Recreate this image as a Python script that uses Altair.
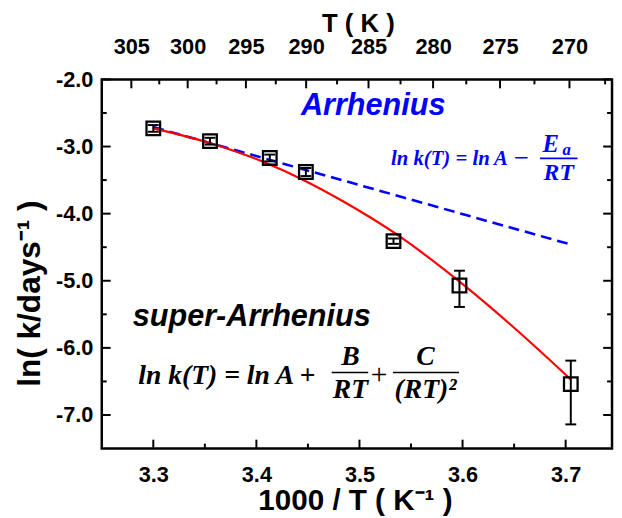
import altair as alt
import pandas as pd

# ---------------- data ----------------
inv_T = [3.300, 3.355, 3.413, 3.448, 3.533, 3.597, 3.705]
ln_k = [-2.73, -2.92, -3.17, -3.38, -4.41, -5.07, -6.54]
ln_k_hi = [-2.68, -2.87, -3.12, -3.32, -4.37, -4.85, -6.19]
ln_k_lo = [-2.78, -2.97, -3.22, -3.44, -4.45, -5.39, -7.14]

# super-Arrhenius fit (red)
fit_x = [3.300, 3.3555, 3.4095, 3.4445, 3.4857, 3.5333, 3.5968, 3.650, 3.705]
fit_y = [-2.73, -2.95, -3.245, -3.49, -3.83, -4.28, -5.01, -5.70, -6.47]

# Arrhenius fit (blue dashed)
arr_x = [3.300, 3.705]
arr_y = [-2.71, -4.46]

# axes
x_ticks = [3.3, 3.4, 3.5, 3.6, 3.7]
x_minor = [3.35, 3.45, 3.55, 3.65]
y_ticks = [-2.0, -3.0, -4.0, -5.0, -6.0, -7.0]
y_minor = [-2.5, -3.5, -4.5, -5.5, -6.5]
T_ticks = [305, 300, 295, 290, 285, 280, 275, 270]
T_minor = [302.5, 297.5, 292.5, 287.5, 282.5, 277.5, 272.5, 267.5]

X_DOMAIN = [3.25, 3.745]
Y_DOMAIN = [-7.5, -2.0]
W, H = 517, 374

pts = pd.DataFrame({"x": inv_T, "y": ln_k, "hi": ln_k_hi, "lo": ln_k_lo})
fit = pd.DataFrame({"x": fit_x, "y": fit_y})
arr = pd.DataFrame({"x": arr_x, "y": arr_y})

xs = alt.Scale(domain=X_DOMAIN, nice=False, zero=False)
ys = alt.Scale(domain=Y_DOMAIN, nice=False, zero=False)

SANS = "Liberation Sans"
SERIF = "Liberation Serif"
BLUE = "#0000FF"
RED = "#FF0000"

x_axis_bottom = alt.Axis(
    orient="bottom", values=x_ticks, format=".1f", ticks=False, domain=False,
    grid=False, labelFont=SANS, labelFontWeight="bold", labelFontSize=22,
    labelColor="black", labelPadding=16, title=None,
)
y_axis_left = alt.Axis(
    orient="left", values=y_ticks, ticks=False, domain=False, grid=False,
    labelExpr="replace(format(datum.value, '.1f'), '\u2212', '-')",
    labelFont=SANS, labelFontWeight="bold", labelFontSize=22,
    labelColor="black", labelPadding=9, title=None,
)
x_axis_top = alt.Axis(
    orient="top", values=[1000.0 / t for t in T_ticks],
    labelExpr="format(1000 / datum.value, '.0f')", ticks=False, domain=False,
    grid=False, labelFont=SANS, labelFontWeight="bold", labelFontSize=22,
    labelColor="black", labelPadding=21, title=None,
)

# Arrhenius dashed line (carries bottom & left axes)
arr_line = alt.Chart(arr).mark_line(
    color=BLUE, strokeWidth=2.6, strokeDash=[11, 6]
).encode(
    x=alt.X("x:Q", scale=xs, axis=x_axis_bottom),
    y=alt.Y("y:Q", scale=ys, axis=y_axis_left),
)

fit_line = alt.Chart(fit).mark_line(
    color=RED, strokeWidth=2.2, interpolate="monotone"
).encode(
    x=alt.X("x:Q", scale=xs, axis=None),
    y=alt.Y("y:Q", scale=ys, axis=None),
)

err_rule = alt.Chart(pts).mark_rule(color="black", strokeWidth=2).encode(
    x=alt.X("x:Q", scale=xs, axis=None),
    y=alt.Y("lo:Q", scale=ys, axis=None),
    y2="hi:Q",
)
cap_hi = alt.Chart(pts).mark_tick(
    orient="horizontal", color="black", thickness=2, size=11, opacity=1
).encode(
    x=alt.X("x:Q", scale=xs, axis=None),
    y=alt.Y("hi:Q", scale=ys, axis=None),
)
cap_lo = alt.Chart(pts).mark_tick(
    orient="horizontal", color="black", thickness=2, size=11, opacity=1
).encode(
    x=alt.X("x:Q", scale=xs, axis=None),
    y=alt.Y("lo:Q", scale=ys, axis=None),
)
squares = alt.Chart(pts).mark_point(
    shape="square", size=190, filled=False, color="black", strokeWidth=2.3,
    opacity=1
).encode(
    x=alt.X("x:Q", scale=xs, axis=None),
    y=alt.Y("y:Q", scale=ys, axis=None),
)

# inward ticks
xt = pd.DataFrame({"v": x_ticks})
xm = pd.DataFrame({"v": x_minor})
yt = pd.DataFrame({"v": y_ticks})
ym = pd.DataFrame({"v": y_minor})
tt = pd.DataFrame({"v": [1000.0 / t for t in T_ticks]})
tm = pd.DataFrame({"v": [1000.0 / t for t in T_minor]})


def xtick(df, y0, y1, axis=None):
    return alt.Chart(df).mark_rule(color="black", strokeWidth=2).encode(
        x=alt.X("v:Q", scale=xs, axis=axis),
        y=alt.value(y0), y2=alt.value(y1),
    )


def ytick(df, x0, x1):
    return alt.Chart(df).mark_rule(color="black", strokeWidth=2).encode(
        y=alt.Y("v:Q", scale=ys, axis=None),
        x=alt.value(x0), x2=alt.value(x1),
    )


ticks = [
    xtick(tt, 0, 9, axis=x_axis_top),
    xtick(tm, 0, 5),
    xtick(xt, H, H - 9),
    xtick(xm, H, H - 5),
    ytick(yt, 0, 9),
    ytick(ym, 0, 5),
    ytick(yt, W, W - 9),
    ytick(ym, W, W - 5),
]


def txt(s, x, y, size, color="black", font=SERIF, style="italic",
        weight="bold", align="left", angle=0):
    return alt.Chart(pd.DataFrame({"t": [s]})).mark_text(
        font=font, fontSize=size, fontStyle=style, fontWeight=weight,
        color=color, align=align, baseline="middle", angle=angle,
    ).encode(text="t:N", x=alt.value(x), y=alt.value(y))


def bar(x0, x1, y, color="black"):
    return alt.Chart(pd.DataFrame({"a": [0]})).mark_rule(
        color=color, strokeWidth=1.6
    ).encode(x=alt.value(x0), x2=alt.value(x1), y=alt.value(y))


notes = [
    # axis titles
    txt("T ( K )", 260, -56, 26, font=SANS, style="normal", align="center"),
    txt("1000 / T ( K\u207b\u00b9 )", 257, 427, 30, font=SANS,
        style="normal", align="center"),
    txt("ln( k/days\u207b\u00b9 )", -73, 217, 32, font=SANS,
        style="normal", align="center", angle=270),
    # Arrhenius label and equation
    txt("Arrhenius", 275, 27, 31, color=BLUE, font=SANS, align="center"),
    txt("ln k(T) = ln A", 293, 81, 21, color=BLUE),
    txt("\u2212", 425, 80, 20, color=BLUE, font="DejaVu Serif",
        style="normal", weight="normal", align="center"),
    txt("E", 455, 66, 25, color=BLUE, align="center"),
    txt("a", 471, 72, 17, color=BLUE, align="center"),
    bar(444, 482, 80, color=BLUE),
    txt("RT", 463, 95, 24, color=BLUE, align="center"),
    # super-Arrhenius label and equation
    txt("super-Arrhenius", 152, 241, 31, font=SANS, align="center"),
    txt("ln k(T) = ln A +", 37, 301, 28),
    txt("B", 252, 281, 28, align="center"),
    bar(233, 270, 297),
    txt("RT", 252, 315, 28, align="center"),
    txt("+", 281, 300, 30, style="normal", weight="normal", align="center"),
    txt("C", 328, 281, 28, align="center"),
    bar(295, 362, 297),
    txt("(RT)\u00b2", 328, 315, 28, align="center"),
]

chart = alt.layer(
    arr_line, fit_line, err_rule, cap_hi, cap_lo, squares, *ticks, *notes
).resolve_axis(x="independent", y="independent").properties(
    width=W, height=H,
    autosize=alt.AutoSizeParams(type="none"),
    padding={"left": 95, "top": 69, "right": 2, "bottom": 67},
).configure_view(stroke="black", strokeWidth=2.5)

chart.save("out.html", embed_options={"renderer": "svg", "actions": False})
